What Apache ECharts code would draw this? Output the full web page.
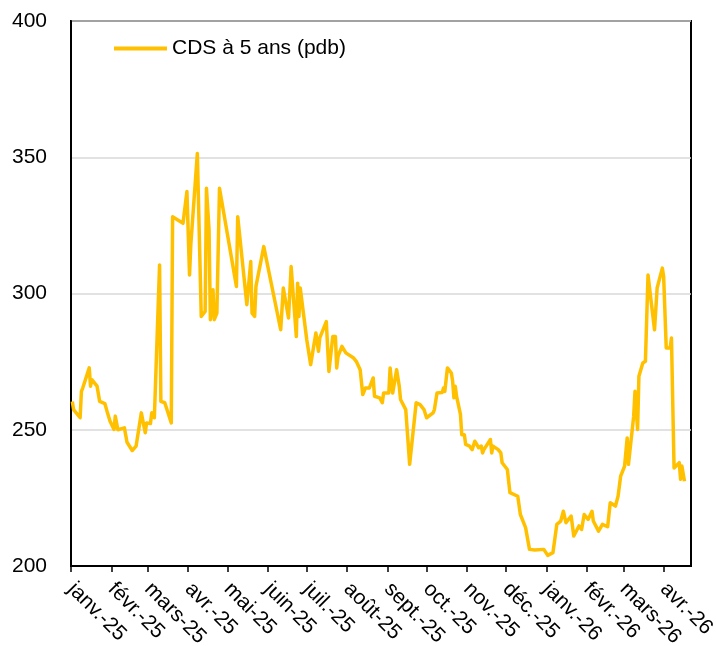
<!DOCTYPE html>
<html>
<head>
<meta charset="utf-8">
<script src="https://cdn.jsdelivr.net/npm/echarts@6/dist/echarts.min.js"></script>
<style>
html,body{margin:0;padding:0;background:#fff;}
#chart{width:716px;height:646px;}
</style>
</head>
<body>
<div id="chart"></div>
<script>
const seriesName = 'CDS à 5 ans (pdb)';
const monthLabels = ['janv.','févr.','mars','avr.','mai','juin','juil.','août','sept.','oct.','nov.','déc.'];
const yTicks = [200, 250, 300, 350, 400];

const dates = [
'2025-01-02','2025-01-03','2025-01-08','2025-01-09','2025-01-10','2025-01-15','2025-01-16','2025-01-17','2025-01-21','2025-01-23',
'2025-01-27','2025-01-29','2025-01-31','2025-02-03','2025-02-04','2025-02-06','2025-02-11','2025-02-13','2025-02-17','2025-02-20',
'2025-02-24','2025-02-27','2025-02-28','2025-03-03','2025-03-04','2025-03-06','2025-03-10','2025-03-11','2025-03-14','2025-03-19',
'2025-03-20','2025-03-28','2025-03-31','2025-04-02','2025-04-03','2025-04-08','2025-04-11','2025-04-14','2025-04-15','2025-04-17',
'2025-04-18','2025-04-20','2025-04-21','2025-04-23','2025-04-25','2025-05-08','2025-05-09','2025-05-16','2025-05-19','2025-05-20',
'2025-05-22','2025-05-23','2025-05-29','2025-06-11','2025-06-13','2025-06-17','2025-06-19','2025-06-23','2025-06-24','2025-06-25',
'2025-06-26','2025-06-27','2025-07-01','2025-07-04','2025-07-08','2025-07-10','2025-07-11','2025-07-16','2025-07-18','2025-07-21',
'2025-07-23','2025-07-24','2025-07-25','2025-07-28','2025-07-31','2025-08-06','2025-08-08','2025-08-11','2025-08-12','2025-08-13',
'2025-08-15','2025-08-18','2025-08-21','2025-08-22','2025-08-26','2025-08-27','2025-08-28','2025-08-29','2025-09-02','2025-09-03',
'2025-09-04','2025-09-05','2025-09-08','2025-09-10','2025-09-11','2025-09-12','2025-09-15','2025-09-18','2025-09-23','2025-09-26',
'2025-09-29','2025-10-01','2025-10-06','2025-10-07','2025-10-08','2025-10-09','2025-10-13','2025-10-14','2025-10-15','2025-10-17',
'2025-10-20','2025-10-21','2025-10-22','2025-10-23','2025-10-24','2025-10-27','2025-10-28','2025-10-30','2025-10-31','2025-11-03',
'2025-11-05','2025-11-07','2025-11-10','2025-11-12','2025-11-13','2025-11-14','2025-11-19','2025-11-20','2025-11-21','2025-11-25',
'2025-11-27','2025-11-28','2025-12-02','2025-12-04','2025-12-05','2025-12-10','2025-12-12','2025-12-16','2025-12-19','2025-12-23',
'2025-12-30','2026-01-02','2026-01-06','2026-01-09','2026-01-12','2026-01-14','2026-01-16','2026-01-20','2026-01-22','2026-01-26',
'2026-01-28','2026-01-30','2026-02-02','2026-02-05','2026-02-06','2026-02-10','2026-02-13','2026-02-17','2026-02-19','2026-02-20',
'2026-02-23','2026-02-25','2026-02-27','2026-03-02','2026-03-04','2026-03-05','2026-03-09','2026-03-10','2026-03-12','2026-03-13',
'2026-03-16','2026-03-18','2026-03-20','2026-03-25','2026-03-27','2026-03-31','2026-04-01','2026-04-03','2026-04-06','2026-04-07',
'2026-04-09','2026-04-10','2026-04-13','2026-04-14','2026-04-15','2026-04-17'
];

const values = [
260.4,257.4,254.4,264.1,265.3,272.7,266.0,268.4,266.0,260.4,
259.6,256.2,253.1,250.1,255.0,250.0,250.7,245.4,242.4,244.0,
256.2,248.9,252.5,252.3,256.2,254.4,310.5,260.4,259.9,252.5,
328.2,325.8,337.4,306.8,318.0,351.4,291.6,293.4,338.6,323.3,
290.4,301.4,290.4,292.8,338.6,302.6,328.2,295.9,311.7,292.8,
291.6,302.6,317.2,286.7,302.0,291.0,309.9,284.2,303.8,291.6,
302.0,301.4,283.0,273.9,285.5,278.8,283.7,289.7,271.4,284.2,
284.2,272.7,276.9,280.6,278.2,276.3,275.1,272.0,272.7,262.9,
265.3,265.3,269.0,262.3,261.7,262.3,259.9,263.5,263.5,272.7,
272.7,263.5,272.0,266.0,261.1,261.7,257.4,237.3,259.9,259.2,
257.4,254.4,256.2,257.4,256.8,263.5,263.7,265.3,264.1,272.7,
270.8,267.8,261.7,266.0,262.3,255.6,248.2,248.2,244.6,244.0,
242.7,245.8,243.4,244.0,241.5,242.7,246.4,241.5,244.0,242.7,
241.5,237.9,235.4,226.9,226.3,225.6,218.9,214.1,206.1,205.9,
206.1,203.9,204.9,215.3,216.5,220.1,215.9,218.3,211.0,214.7,
213.4,218.9,217.1,220.1,216.5,212.8,215.3,214.4,223.2,222.6,
222.0,225.6,233.0,236.6,247.0,237.3,255.0,264.1,250.1,269.6,
274.5,275.1,306.8,286.7,302.0,309.3,306.2,280.0,280.0,283.7,
236.0,235.4,237.9,231.8,236.7,231.1
];

const chart = echarts.init(document.getElementById('chart'), null, {renderer: 'canvas'});
const font = 'Liberation Sans, Arial, sans-serif';
const DAY = 86400000;

chart.setOption({
  animation: false,
  backgroundColor: '#fff',
  grid: {left: 71, right: 25, top: 21, bottom: 80, show: true, borderColor: '#000', borderWidth: 2, containLabel: false, outerBoundsMode: 'none'},
  legend: {
    show: true,
    left: 114, top: 38,
    padding: 0,
    icon: 'rect',
    itemWidth: 53, itemHeight: 4,
    textStyle: {fontFamily: font, fontSize: 21, color: '#000'},
    data: [seriesName]
  },
  xAxis: {
    type: 'time',
    min: '2025-01-01',
    max: '2026-04-22',
    minInterval: 28 * DAY,
    maxInterval: 31 * DAY,
    axisLine: {show: true, lineStyle: {color: '#000', width: 2}},
    axisTick: {show: true, length: 6, lineStyle: {color: '#000', width: 1.5}},
    splitLine: {show: false},
    axisLabel: {
      rotate: -45,
      margin: 20,
      fontFamily: font, fontSize: 21, color: '#000',
      showMinLabel: true, showMaxLabel: false,
      hideOverlap: false,
      formatter: function (v) {
        const d = new Date(v);
        return monthLabels[d.getMonth()] + '-' + String(d.getFullYear()).slice(2);
      }
    }
  },
  yAxis: {
    type: 'value',
    min: yTicks[0], max: yTicks[yTicks.length - 1], interval: 50,
    axisLine: {show: true, lineStyle: {color: '#000', width: 2}},
    axisTick: {show: false},
    splitLine: {show: true, lineStyle: {color: '#D9D9D9', width: 1.5}},
    axisLabel: {margin: 24, fontFamily: font, fontSize: 21, color: '#000'}
  },
  series: [{
    name: seriesName,
    type: 'line',
    data: dates.map((d, i) => [d, values[i]]),
    showSymbol: false,
    symbol: 'none',
    lineStyle: {color: '#FFC000', width: 3.5, join: 'round'},
    itemStyle: {color: '#FFC000'}
  }]
});
</script>
</body>
</html>
